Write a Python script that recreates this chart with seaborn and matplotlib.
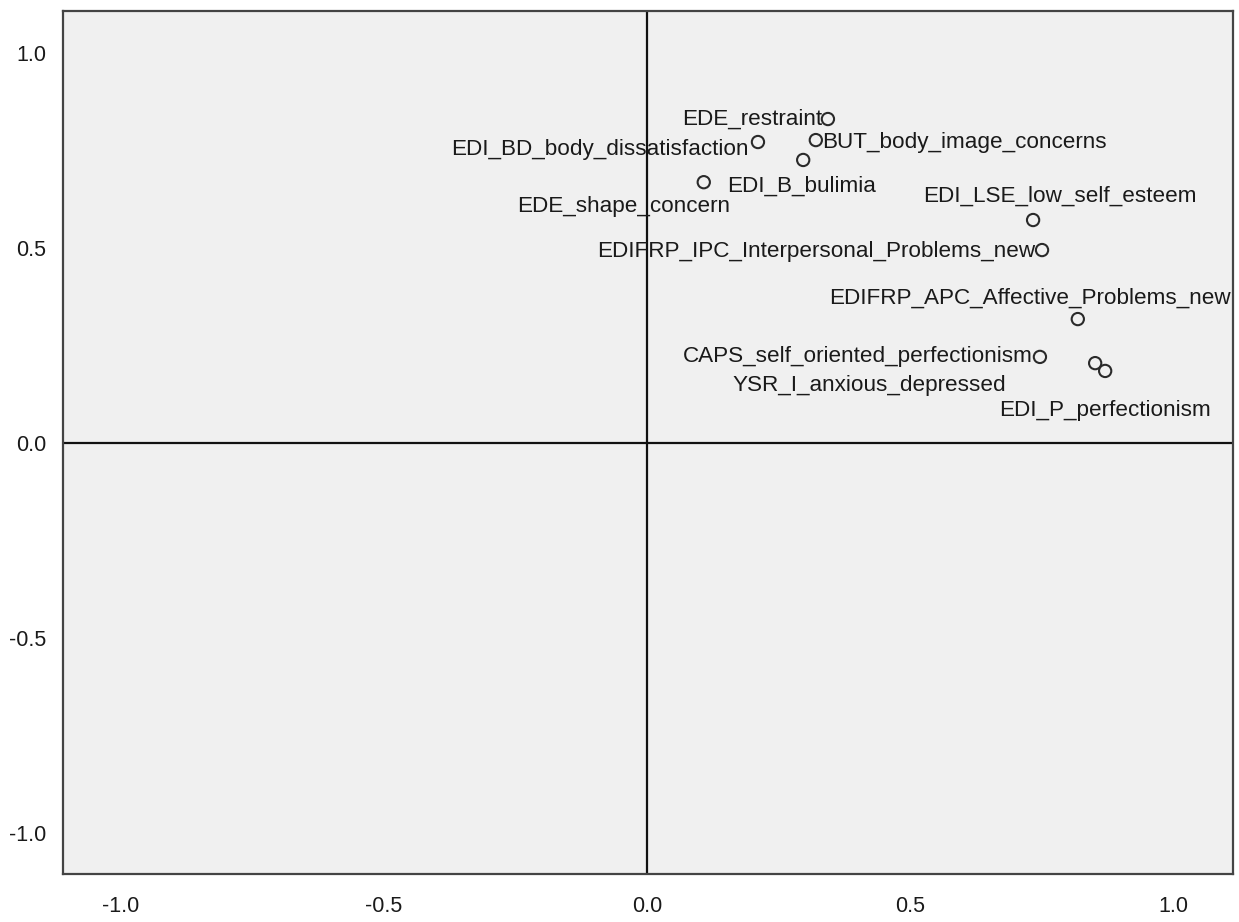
import matplotlib
matplotlib.use("Agg")
import matplotlib.pyplot as plt
import seaborn as sns
import pandas as pd

# ---- data ----
labels = [
    "EDE_restraint",
    "BUT_body_image_concerns",
    "EDI_BD_body_dissatisfaction",
    "EDI_B_bulimia",
    "EDE_shape_concern",
    "EDI_LSE_low_self_esteem",
    "EDIFRP_IPC_Interpersonal_Problems_new",
    "EDIFRP_APC_Affective_Problems_new",
    "CAPS_self_oriented_perfectionism",
    "YSR_I_anxious_depressed",
    "EDI_P_perfectionism",
]
x_vals = [0.344, 0.321, 0.211, 0.297, 0.108, 0.734, 0.751, 0.819, 0.747, 0.852, 0.871]
y_vals = [0.831, 0.777, 0.772, 0.726, 0.669, 0.572, 0.495, 0.318, 0.221, 0.205, 0.185]
tick_values = [-1.0, -0.5, 0.0, 0.5, 1.0]
tick_labels = ["-1.0", "-0.5", "0.0", "0.5", "1.0"]

# label placement (pixel offsets from the point, baseline anchored)
label_dx = [-6, 6, -9, -1.5, 26, 27, -7, 153, -7, -89, 0]
label_dy = [-6, -8, -13, -32, -30, 18, -7, 15, -5, -28, -45]
label_ha = ["right", "left", "right", "center", "right", "center",
            "right", "right", "right", "right", "center"]

df = pd.DataFrame({"x": x_vals, "y": y_vals, "label": labels})

sns.set_style("white")
plt.rcParams["font.family"] = ["Liberation Sans", "DejaVu Sans"]

fig = plt.figure(figsize=(12.39, 9.22), dpi=100)
ax = fig.add_axes([63 / 1239, 1 - 874 / 922, (1233 - 63) / 1239, (874 - 11) / 922])
ax.set_facecolor("#F0F0F0")

ax.axhline(0, color="#111111", lw=1.6, zorder=1)
ax.axvline(0, color="#111111", lw=1.6, zorder=1)

sns.scatterplot(data=df, x="x", y="y", ax=ax, marker="o", s=78,
                facecolor="none", edgecolor="#2a2a2a", linewidth=1.5, zorder=3,
                legend=False)

px2pt = 72 / 100
for lab, xv, yv, dx, dy, ha in zip(labels, x_vals, y_vals, label_dx, label_dy, label_ha):
    ax.annotate(lab, (xv, yv), xytext=(dx * px2pt, dy * px2pt),
                textcoords="offset points", ha=ha, va="baseline",
                fontsize=16.2, color="#1a1a1a", zorder=4)

ax.set_xlim(-1.11, 1.114)
ax.set_ylim(-1.105, 1.108)
ax.set_xticks(tick_values)
ax.set_xticklabels(tick_labels)
ax.set_yticks(tick_values)
ax.set_yticklabels(tick_labels)
ax.set_xlabel("")
ax.set_ylabel("")

for sp in ax.spines.values():
    sp.set_visible(True)
    sp.set_color("#444444")
    sp.set_linewidth(1.6)

ax.tick_params(axis="both", direction="out", length=6, width=1.5,
               color="#444444", labelsize=15.5, labelcolor="#1a1a1a")
ax.tick_params(axis="x", pad=10)
ax.tick_params(axis="y", pad=6)

fig.savefig("out.png", dpi=100)
